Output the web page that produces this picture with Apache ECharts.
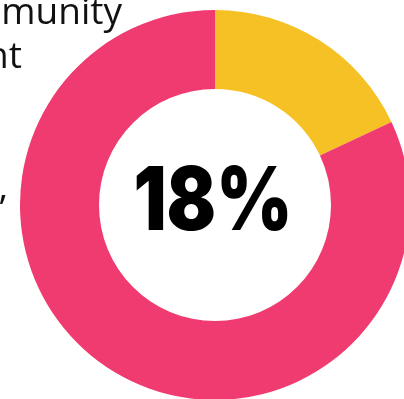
<!DOCTYPE html>
<html><head><meta charset="utf-8">
<script src="https://cdn.jsdelivr.net/npm/echarts@6/dist/echarts.min.js"></script>
<style>html,body{margin:0;padding:0;background:#fff}#c{width:404px;height:399px}</style>
</head><body><div id="c"></div>
<script>
const categories = ['Yes', 'No'];
const values = [18, 82];
const centerLabel = '18%';
const sideLines = ['of community', 'engagement', 'in', 'the last', 'in years,'];

const chart = echarts.init(document.getElementById('c'), null, {renderer: 'canvas'});
const lineY = [-5, 38.5, 82, 125.5, 170];
const lineX = [122, 22, 1, -10, 8];
chart.setOption({
  animation: false,
  graphic: sideLines.map((t, i) => ({
    type: 'text', x: lineX[i], y: lineY[i],
    style: {text: t, fill: '#111', font: '37px "Open Sans"', align: 'right', verticalAlign: 'top'}
  })).concat([{
    type: 'text', x: 213, y: 204, scaleX: 0.83,
    style: {text: centerLabel, fill: '#000', font: '900 88px Inter', align: 'center', verticalAlign: 'middle'},
    z: 10
  }]),
  series: [{
    type: 'pie',
    center: [215, 205],
    radius: [116, 195],
    startAngle: 90,
    clockwise: true,
    silent: true,
    label: {show: false},
    labelLine: {show: false},
    emphasis: {disabled: true},
    data: categories.map((c, i) => ({name: c, value: values[i],
      itemStyle: {color: i === 0 ? '#F6C125' : '#EF3B70'}}))
  }]
});
</script></body></html>
